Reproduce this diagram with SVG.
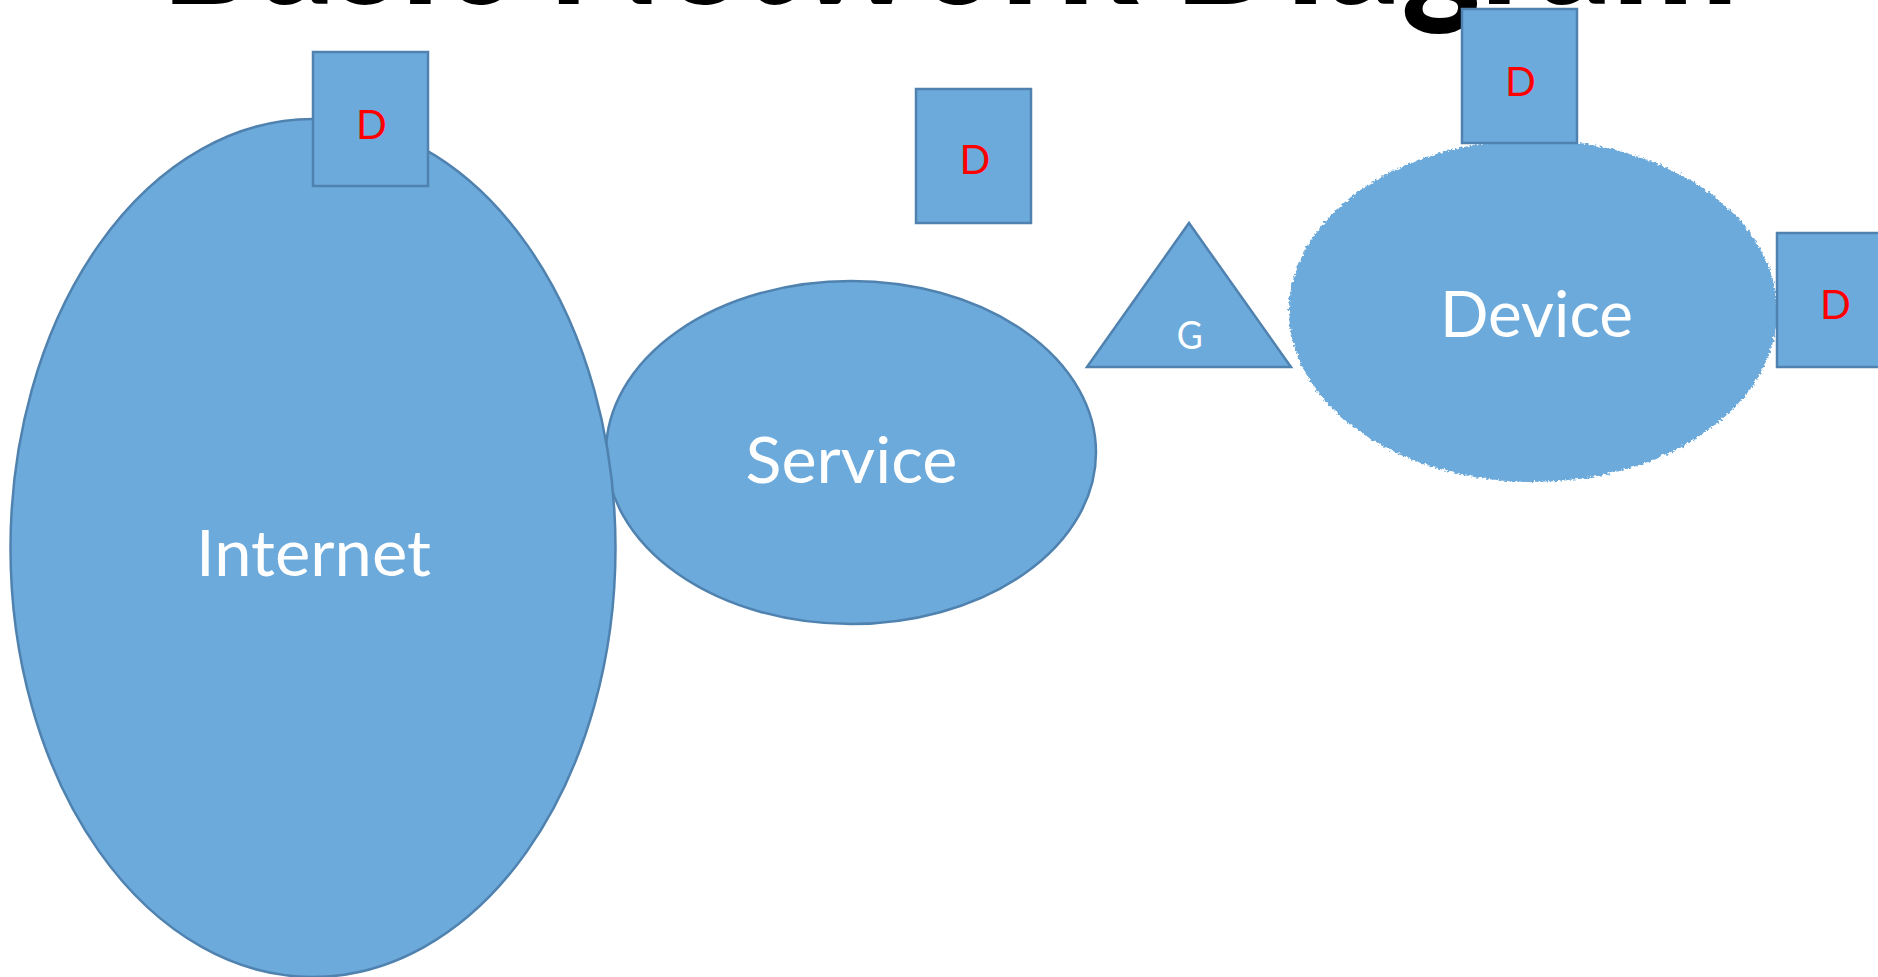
<svg xmlns="http://www.w3.org/2000/svg" width="1878" height="977" viewBox="0 0 1878 977">
  <style>
    .shape { fill: #6CAADB; stroke: #5082AF; stroke-width: 2.5; }
    .label { font-family: Lato, "Open Sans", "Liberation Sans", sans-serif; fill: #FFFFFF; text-anchor: middle; }
    .tag { font-family: Lato, "Open Sans", "Liberation Sans", sans-serif; fill: #FF0000; font-size: 40.5px; text-anchor: middle; }
    .title { font-family: Lato, "Liberation Sans", sans-serif; font-weight: 900; font-size: 165px; fill: #000000; }
  </style>
  <defs>
    <!-- ragged edge for the device cloud -->
    <filter id="rough" x="-5%" y="-5%" width="110%" height="110%">
      <feTurbulence type="fractalNoise" baseFrequency="0.35" numOctaves="2" seed="3" result="noise"/>
      <feDisplacementMap in="SourceGraphic" in2="noise" scale="6" xChannelSelector="R" yChannelSelector="G"/>
    </filter>
  </defs>
  <rect width="1878" height="977" fill="#FFFFFF"/>

  <g id="title">
    <text class="title" x="161" y="4" textLength="1577" lengthAdjust="spacingAndGlyphs">Basic Network Diagram</text>
  </g>

  <g id="connectors"></g>

  <g id="service">
    <ellipse class="shape" cx="851" cy="452.5" rx="245" ry="171.5"/>
    <text class="label" x="851.5" y="482.7" font-size="63" textLength="212" lengthAdjust="spacingAndGlyphs">Service</text>
  </g>

  <g id="internet">
    <ellipse class="shape" cx="313" cy="548" rx="302.5" ry="429"/>
    <text class="label" x="313.5" y="576" font-size="63" textLength="235" lengthAdjust="spacingAndGlyphs">Internet</text>
  </g>

  <g id="device">
    <ellipse cx="1533" cy="311" rx="244" ry="171" fill="#6CAADB" filter="url(#rough)"/>
    <text class="label" x="1536.5" y="337.3" font-size="63" textLength="193" lengthAdjust="spacingAndGlyphs">Device</text>
  </g>

  <g id="gateway">
    <polygon class="shape" points="1189,223 1291,367 1087,367"/>
    <text class="label" x="1189.7" y="349" font-size="37.7" textLength="26" lengthAdjust="spacingAndGlyphs">G</text>
  </g>

  <g id="d-internet">
    <rect class="shape" x="313" y="52" width="115" height="134"/>
    <text class="tag" x="371.5" y="139">D</text>
  </g>

  <g id="d-service">
    <rect class="shape" x="916" y="89" width="115" height="134"/>
    <text class="tag" x="975" y="174">D</text>
  </g>

  <g id="d-device-top">
    <rect class="shape" x="1462" y="9" width="115" height="134"/>
    <text class="tag" x="1520.5" y="96">D</text>
  </g>

  <g id="d-device-right">
    <rect class="shape" x="1777" y="233" width="115" height="134"/>
    <text class="tag" x="1835.5" y="319">D</text>
  </g>
</svg>
